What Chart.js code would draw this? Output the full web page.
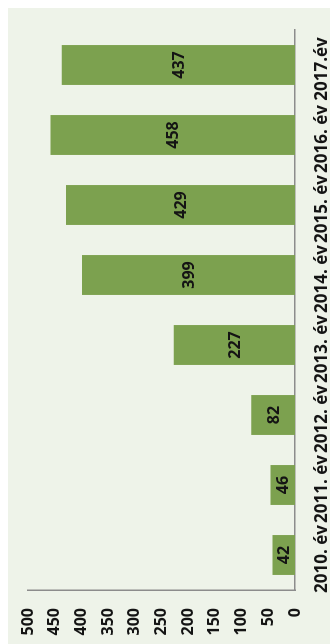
<!DOCTYPE html>
<html>
<head>
<meta charset="utf-8">
<script src="https://cdn.jsdelivr.net/npm/chart.js@4"></script>
<style>
  html, body { margin: 0; padding: 0; background: #fff; }
  #page { position: relative; width: 330px; height: 644px; overflow: hidden; background: #fff; }
  #paper { position: absolute; left: 8px; top: 8px; width: 322px; height: 636px; background: #eef3e9; }
  /* chart is drawn upright, then turned a quarter left like the scan */
  #turn { position: absolute; left: 0; top: 0; width: 644px; height: 330px;
          transform-origin: 0 0; transform: translate(0, 644px) rotate(-90deg); }
</style>
</head>
<body>
<div id="page">
  <div id="paper"></div>
  <div id="turn"><canvas id="chart-years" width="644" height="330"></canvas></div>
</div>
<script>
(function () {
  'use strict';

  var years = ['2010. év', '2011. év', '2012. év', '2013. év', '2014. év', '2015. év', '2016. év', '2017.év'];
  var counts = [42, 46, 82, 227, 399, 429, 458, 437];
  var valueTicks = [0, 50, 100, 150, 200, 250, 300, 350, 400, 450, 500];

  var GREEN = '#7ca14f';
  var INK = '#141414';
  var AXIS = '#8c8c8c';
  var FONT = "'Open Sans', 'Noto Sans', sans-serif";

  Chart.defaults.font.family = FONT;
  Chart.defaults.font.weight = 'bold';
  Chart.defaults.color = INK;

  // value labels in the middle of each bar
  var midLabels = {
    id: 'midLabels',
    afterDatasetsDraw: function (chart) {
      var ctx = chart.ctx;
      var meta = chart.getDatasetMeta(0);
      ctx.save();
      ctx.font = 'bold 16px ' + FONT;
      ctx.fillStyle = INK;
      ctx.textAlign = 'center';
      ctx.textBaseline = 'middle';
      meta.data.forEach(function (bar, i) {
        ctx.fillText(String(counts[i]), bar.x, (bar.y + bar.base) / 2 + 1);
      });
      ctx.restore();
    }
  };

  new Chart(document.getElementById('chart-years').getContext('2d'), {
    type: 'bar',
    data: {
      labels: years,
      datasets: [{
        data: counts,
        backgroundColor: GREEN,
        borderWidth: 0,
        categoryPercentage: 1,
        barPercentage: 0.57
      }]
    },
    options: {
      responsive: false,
      animation: false,
      devicePixelRatio: 1,
      layout: { padding: { top: 28, right: 30, left: 0, bottom: 0 } },
      plugins: { legend: { display: false }, tooltip: { enabled: false } },
      scales: {
        x: {
          grid: { display: false, drawTicks: false },
          border: { display: true, color: AXIS, width: 1.5 },
          ticks: { font: { size: 17, weight: 'bold' }, padding: 17, labelOffset: -4, maxRotation: 0, autoSkip: false },
          afterFit: function (scale) { scale.height = 35; }
        },
        y: {
          min: 0,
          max: 500,
          afterBuildTicks: function (scale) {
            scale.ticks = valueTicks.map(function (v) { return { value: v }; });
          },
          grid: { display: false, drawTicks: false },
          border: { display: true, color: AXIS, width: 1.5 },
          ticks: { font: { size: 16, weight: 'bold' }, padding: 18 },
          afterFit: function (scale) { scale.width = 54; }
        }
      }
    },
    plugins: [midLabels]
  });
})();
</script>
</body>
</html>
